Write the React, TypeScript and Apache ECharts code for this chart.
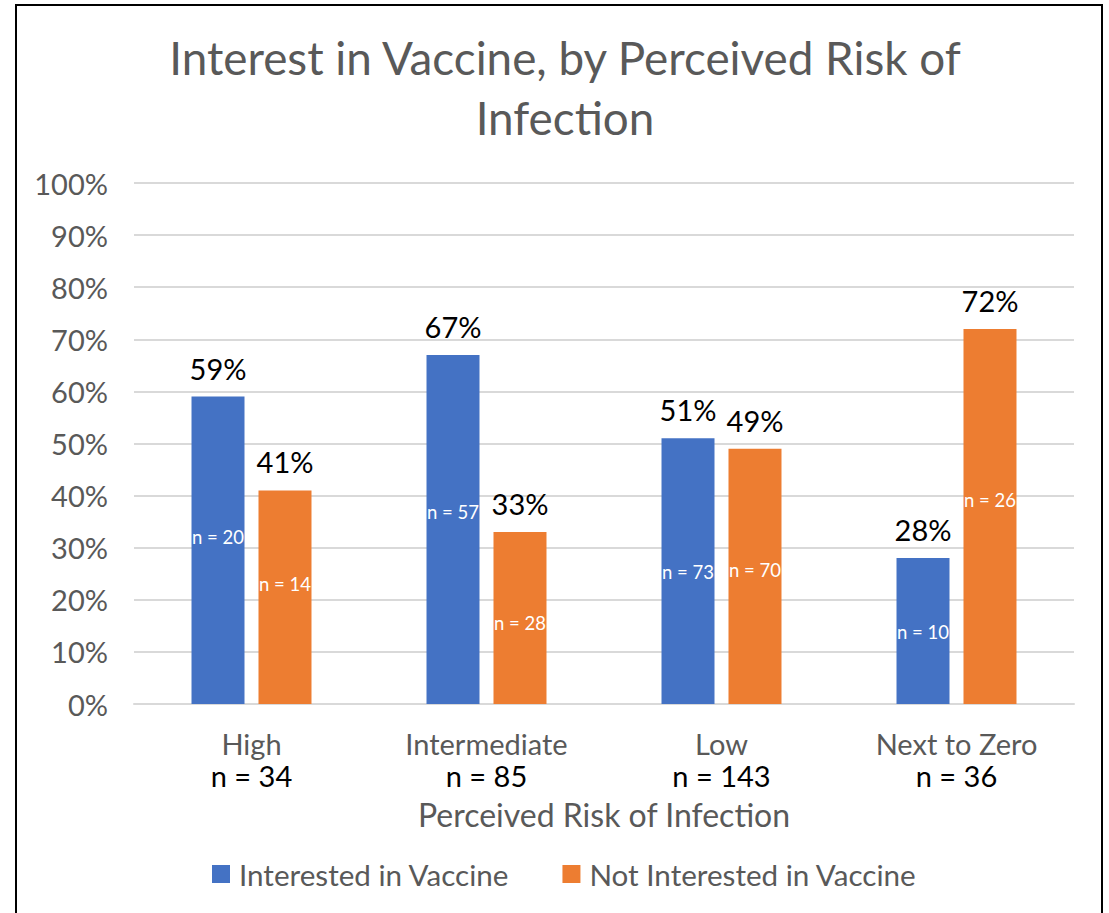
import React, { useEffect, useRef } from "react";
import * as echarts from "echarts";

const categories = ["High", "Intermediate", "Low", "Next to Zero"];
const categoryN = [34, 85, 143, 36];
const interested = [59, 67, 51, 28];
const notInterested = [41, 33, 49, 72];
const nInterested = [20, 57, 73, 10];
const nNotInterested = [14, 28, 70, 26];
const yTicks = { min: 0, max: 100, interval: 10 };

// vertical nudges of the in-bar "n =" labels (px), as placed in the original
const nOffsetsInterested = [-13, -17, 1, 1];
const nOffsetsNotInterested = [-13, 5, -6, -16];

const FONT = "Lato";
const GRAY = "#595959";
const BLUE = "#4472C4";
const ORANGE = "#ED7D31";

export default function App() {
  const ref = useRef<HTMLDivElement>(null);
  useEffect(() => {
    if (!ref.current) return;
    const chart = echarts.init(ref.current, undefined, { renderer: "svg" });
    const barCommon = {
      type: "bar",
      barWidth: 53,
      barGap: "26.4%",
    };
    const pctLabel = {
      show: true,
      position: "top",
      distance: 14,
      formatter: "{c}%",
      fontFamily: FONT,
      fontSize: 29,
      color: "#000",
    };
    const nLabel = (arr: number[]) => ({
      show: true,
      position: "inside",
      formatter: (p: any) => "n = " + arr[p.dataIndex],
      fontFamily: FONT,
      fontSize: 18.5,
      color: "#fff",
    });
    chart.setOption({
      animation: false,
      backgroundColor: "#fff",
      textStyle: { fontFamily: FONT },
      title: {
        text: "Interest in Vaccine, by Perceived Risk of\nInfection",
        left: 560,
        textAlign: "center",
        top: 22,
        textStyle: {
          fontFamily: FONT,
          fontSize: 45.8,
          fontWeight: "normal",
          color: GRAY,
          lineHeight: 60,
        },
      },
      legend: {
        data: ["Interested in Vaccine", "Not Interested in Vaccine"],
        left: 207,
        top: 854,
        icon: "rect",
        itemWidth: 18,
        itemHeight: 18,
        itemGap: 53,
        textStyle: {
          fontFamily: FONT,
          fontSize: 29.6,
          color: GRAY,
          padding: [0, 0, 0, 4],
        },
      },
      grid: { left: 134, right: 35, top: 183, bottom: 209 },
      xAxis: [
        {
          type: "category",
          data: categories,
          axisLine: { lineStyle: { color: "#d9d9d9", width: 2 } },
          axisTick: { show: false },
          axisLabel: {
            margin: 23,
            formatter: (v: string, i: number) =>
              "{a|" + v + "}\n{b|n = " + categoryN[i] + "}",
            rich: {
              a: { fontFamily: FONT, fontSize: 29, color: GRAY, lineHeight: 32 },
              b: { fontFamily: FONT, fontSize: 29, color: "#000", lineHeight: 32 },
            },
          },
          name: "Perceived Risk of Infection",
          nameLocation: "middle",
          nameGap: 94,
          nameTextStyle: { fontFamily: FONT, fontSize: 32, color: GRAY },
        },
        { type: "category", data: categories, show: false },
      ],
      yAxis: {
        type: "value",
        min: yTicks.min,
        max: yTicks.max,
        interval: yTicks.interval,
        axisLine: { show: false },
        axisTick: { show: false },
        axisLabel: {
          formatter: "{value}%",
          margin: 26,
          fontFamily: FONT,
          fontSize: 29,
          color: GRAY,
        },
        splitLine: { lineStyle: { color: "#d9d9d9", width: 2 } },
      },
      series: [
        {
          ...barCommon,
          name: "Interested in Vaccine",
          data: interested,
          itemStyle: { color: BLUE },
          label: pctLabel,
        },
        {
          ...barCommon,
          name: "Not Interested in Vaccine",
          data: notInterested,
          itemStyle: { color: ORANGE },
          label: pctLabel,
        },
        {
          ...barCommon,
          name: "nInterested",
          xAxisIndex: 1,
          data: interested.map((v, i) => ({
            value: v,
            label: { offset: [0, nOffsetsInterested[i]] },
          })),
          itemStyle: { color: "rgba(0,0,0,0)" },
          label: nLabel(nInterested),
          z: 3,
        },
        {
          ...barCommon,
          name: "nNotInterested",
          xAxisIndex: 1,
          data: notInterested.map((v, i) => ({
            value: v,
            label: { offset: [0, nOffsetsNotInterested[i]] },
          })),
          itemStyle: { color: "rgba(0,0,0,0)" },
          label: nLabel(nNotInterested),
          z: 3,
        },
      ],
      graphic: [
        {
          type: "rect",
          shape: { x: 16, y: 5, width: 1086, height: 1000 },
          style: { fill: "none", stroke: "#000", lineWidth: 2 },
          silent: true,
          z: 100,
        },
      ],
    });
    return () => chart.dispose();
  }, []);
  return (
    <div
      ref={ref}
      style={{ position: "fixed", left: 0, top: 0, width: 1109, height: 913 }}
    />
  );
}
